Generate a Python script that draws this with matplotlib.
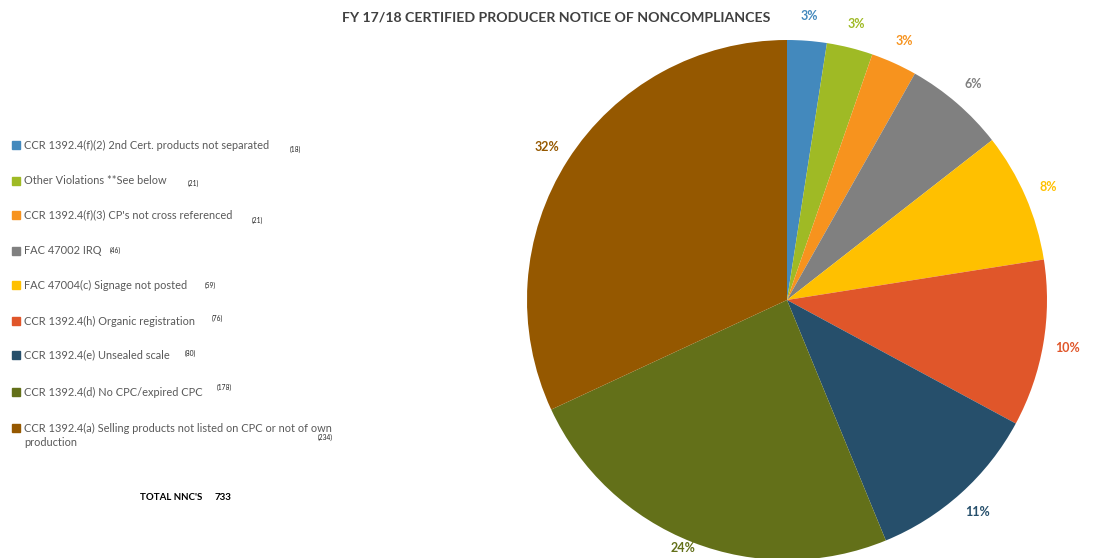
import numpy as np
import matplotlib
matplotlib.use("Agg")
import matplotlib.pyplot as plt
from matplotlib.patches import Rectangle

plt.rcParams["font.family"] = ["Lato", "DejaVu Sans"]

# ---------------------------------------------------------------------------
# Data
# ---------------------------------------------------------------------------
labels = [
    "CCR 1392.4(f)(2) 2nd Cert. products not separated",
    "Other Violations **See below",
    "CCR 1392.4(f)(3) CP's not cross referenced",
    "FAC 47002 IRQ",
    "FAC 47004(c) Signage not posted",
    "CCR 1392.4(h) Organic registration",
    "CCR 1392.4(e) Unsealed scale",
    "CCR 1392.4(d) No CPC/expired CPC",
    "CCR 1392.4(a) Selling products not listed on CPC or not of own\nproduction",
]
counts = [18, 21, 21, 46, 59, 76, 80, 178, 234]
pct_labels = ["3%", "3%", "3%", "6%", "8%", "10%", "11%", "24%", "32%"]
colors = ["#4389bd", "#9fba25", "#f7931e", "#808080", "#ffc000",
          "#e0562a", "#264f6b", "#637019", "#955800"]
total = 733

title = "FY 17/18 CERTIFIED PRODUCER NOTICE OF NONCOMPLIANCES"

# legend layout (pixel positions)
legend_y = [145, 181, 215, 251, 285, 321, 355, 392, 428]
count_x = [290, 188, 252, 110, 205, 212, 185, 217, 318]
count_dy = [4, 2, 5, -1, 0, -3, -2, -5, 9]

W, H = 1097, 558
fig = plt.figure(figsize=(W / 100, H / 100), dpi=100)

# ---------------------------------------------------------------------------
# Pie
# ---------------------------------------------------------------------------
cx, cy, r = 787, 300, 260
ax = fig.add_axes([(cx - r) / W, (H - cy - r) / H, 2 * r / W, 2 * r / H])
wedges, texts, autotexts = ax.pie(
    counts, colors=colors, startangle=90, counterclock=False,
    autopct="%.0f%%", pctdistance=1.095,
    wedgeprops=dict(linewidth=0), textprops=dict(fontsize=9, fontweight="bold"))
ax.set_xlim(-1, 1)
ax.set_ylim(-1, 1)
ax.set_aspect("equal")
ax.axis("off")
for t, c, s in zip(autotexts, colors, pct_labels):
    t.set_text(s)
    t.set_color(c)
    x, y = t.get_position()
    if y < -0.94:
        t.set_position((x, -0.955))
    t.set_clip_on(False)

# ---------------------------------------------------------------------------
# Title, legend and total
# ---------------------------------------------------------------------------
fig.text(556 / W, 1 - 17 / H, title, ha="center", va="center",
         fontsize=10.2, fontweight="bold", color="#404040")

for lab, n, c, y, xn, dy in zip(labels, counts, colors, legend_y, count_x, count_dy):
    fig.patches.append(Rectangle((12 / W, 1 - (y + 4) / H), 8 / W, 8 / H,
                                 transform=fig.transFigure, color=c))
    # wrapped labels: one text per line so the count can sit under the first
    for i, line in enumerate(lab.split("\n")):
        fig.text(24 / W, 1 - (y + 14 * i) / H, line, ha="left", va="center",
                 fontsize=7.9, color="#595959")
    fig.text(xn / W, 1 - (y + dy) / H, f"({n})", ha="left", va="center",
             fontsize=4.8, color="#222222")

fig.text(140 / W, 1 - 497 / H, "TOTAL NNC'S", ha="left", va="center",
         fontsize=7, fontweight="bold", color="#000000")
fig.text(215 / W, 1 - 497 / H, str(total), ha="left", va="center",
         fontsize=7, fontweight="bold", color="#000000")

fig.savefig("out.png", dpi=100)
